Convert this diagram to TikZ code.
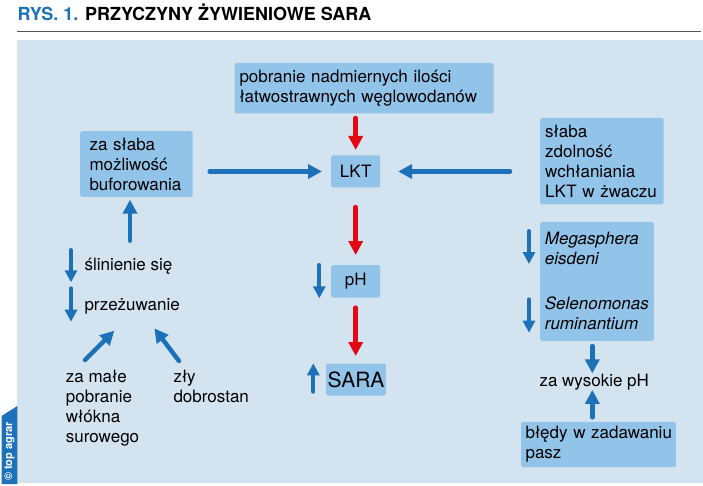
\documentclass[tikz,border=0pt]{standalone}
\usepackage{fontspec}
\setmainfont{TeX Gyre Heros}
\usetikzlibrary{arrows.meta}

\definecolor{agrarblue}{RGB}{29,113,184}
\definecolor{panelblue}{RGB}{211,227,240}
\definecolor{boxblue}{RGB}{146,196,234}
\definecolor{arrowred}{RGB}{227,6,19}
\definecolor{rulegray}{RGB}{85,85,85}

\begin{document}
\begin{tikzpicture}[x=1pt, y=-1pt,
    box/.style={rectangle, fill=boxblue, rounded corners=2pt, anchor=north west, align=left, inner ysep=0pt, font=\fontsize{17}{20}\selectfont},
    freetext/.style={anchor=base west, inner sep=0pt, align=left, font=\fontsize{17}{20}\selectfont},
    bluearrow/.style={draw=agrarblue, line width=4.5pt, line cap=round, -{Triangle[width=14pt,length=14pt]}},
    redarrow/.style={bluearrow, draw=arrowred},
    smallarrow/.style={bluearrow, line width=4pt, -{Triangle[width=12pt,length=12pt]}}]
    \useasboundingbox (0, 0) rectangle (703, 486);

    % heading, panel and logo
    \node (Title) [anchor=base west, inner sep=0pt, font=\fontsize{18}{20}\selectfont\bfseries] at (17.3, 20.5) {\textcolor{agrarblue}{RYS. 1.} PRZYCZYNY ŻYWIENIOWE SARA};
    \draw [rulegray, line width=1.5pt] (17.3, 31.7) -- (700.7, 31.7);
    \fill [panelblue] (17.3, 40) rectangle (703, 482.7);
    \fill [agrarblue] (1.5, 416) -- (17.3, 406) -- (17.3, 484) -- (1.5, 484) -- cycle;
    \node (Logo) [rotate=90, anchor=west, inner sep=0pt, text=white, font=\fontsize{11}{11}\selectfont\bfseries] at (9.5, 481) {\textcopyright\ top agrar};

    % boxes
    \node (Carbohydrates) [box, text width=249pt, inner xsep=5pt, minimum height=50.6pt] at (234.3, 62.7) {pobranie nadmiernych ilości\\łatwostrawnych węglowodanów};
    \node (LKT) [box, align=center, text width=49pt, inner xsep=0pt, minimum height=32pt] at (331, 155.3) {LKT};
    \node (Buffering) [box, text width=93.7pt, inner xsep=9.3pt, minimum height=65.7pt] at (80, 131) {za słaba\\możliwość\\buforowania};
    \node (Absorption) [box, text width=113.3pt, inner xsep=5pt, minimum height=86.6pt] at (540, 117.7) {słaba\\zdolność\\wchłaniania\\LKT w żwaczu};
    \node (PH) [box, align=center, text width=49pt, inner xsep=0pt, minimum height=32.3pt] at (331, 265) {pH};
    \node (SARA) [box, align=center, text width=59.7pt, inner xsep=0pt, minimum height=32pt, font=\fontsize{21}{24}\selectfont] at (326, 363.3) {SARA};
    \node (Bacteria) [box, text width=104.3pt, inner xsep=4.7pt, minimum height=119pt, font=\fontsize{17}{20}\selectfont\itshape] at (540, 221.7) {Megasphera\\eisdeni\\[25pt]Selenomonas\\ruminantium};
    \node (FeedingErrors) [box, text width=146pt, inner xsep=4.35pt, minimum height=45.3pt] at (521, 421.7) {\mbox{błędy w zadawaniu}\\pasz};

    % free texts
    \node (Salivation) [freetext] at (84.3, 270.7) {ślinienie się};
    \node (Rumination) [freetext] at (84.3, 310.7) {przeżuwanie};
    \node (LowFibre) [freetext] at (65.7, 442.7) {za małe\\pobranie\\włókna\\surowego};
    \node (Welfare) [freetext] at (173.3, 402.7) {zły\\dobrostan};
    \node (HighPH) [freetext] at (539.3, 386) {za wysokie pH};

    % free arrow ends
    \coordinate (BufferingFoot) at (130, 240.7);
    \coordinate (SalivationTail) at (71, 250);
    \coordinate (SalivationTip) at (71, 282.3);
    \coordinate (RuminationTail) at (71, 288.3);
    \coordinate (RuminationTip) at (71, 321.7);
    \coordinate (LowFibreTail) at (85, 360);
    \coordinate (LowFibreTip) at (114.3, 330.7);
    \coordinate (WelfareTail) at (179, 361);
    \coordinate (WelfareTip) at (154.3, 328.3);
    \coordinate (PHTail) at (319.3, 265);
    \coordinate (PHTip) at (319.3, 298.3);
    \coordinate (SARATail) at (313.3, 391.7);
    \coordinate (SARATip) at (313.3, 363.3);
    \coordinate (MegasphaeraTail) at (529, 231);
    \coordinate (MegasphaeraTip) at (529, 264);
    \coordinate (SelenomonasTail) at (529, 299.3);
    \coordinate (SelenomonasTip) at (529, 332.7);
    \coordinate (HighPHColumn) at (592.3, 0);

    % arrows
    \draw [redarrow, shorten <=4.4pt, shorten >=5.3pt] (LKT |- Carbohydrates.south) -- (LKT);
    \draw [redarrow, shorten <=19.4pt, shorten >=10pt] (LKT) -- (PH);
    \draw [redarrow, shorten <=10pt, shorten >=7.3pt] (PH) -- (PH |- SARA.north);
    \draw [bluearrow, shorten <=17pt, shorten >=9pt] (Buffering.east |- LKT) -- (LKT);
    \draw [bluearrow, shorten <=30pt, shorten >=17.7pt] (Absorption.west |- LKT) -- (LKT);
    \draw [bluearrow, shorten >=2.6pt] (BufferingFoot) -- (BufferingFoot |- Buffering.south);
    \draw [smallarrow] (SalivationTail) -- (SalivationTip);
    \draw [smallarrow] (RuminationTail) -- (RuminationTip);
    \draw [bluearrow] (LowFibreTail) -- (LowFibreTip);
    \draw [bluearrow] (WelfareTail) -- (WelfareTip);
    \draw [smallarrow] (PHTail) -- (PHTip);
    \draw [smallarrow] (SARATail) -- (SARATip);
    \draw [smallarrow] (MegasphaeraTail) -- (MegasphaeraTip);
    \draw [smallarrow] (SelenomonasTail) -- (SelenomonasTip);
    \draw [bluearrow, shorten <=5pt] (Bacteria.south -| HighPHColumn) -- (HighPH.north -| HighPHColumn);
    \draw [bluearrow, shorten <=4.4pt] (FeedingErrors.north -| HighPHColumn) -- (HighPH.south -| HighPHColumn);
\end{tikzpicture}
\end{document}
